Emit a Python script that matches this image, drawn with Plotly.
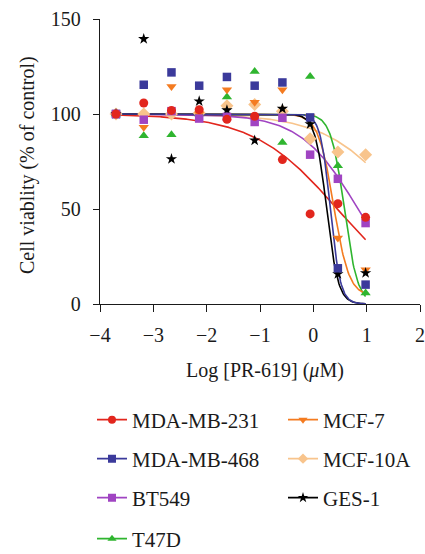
import numpy as np
import plotly.graph_objects as go

# ---- data ----
x_log = [-3.7, -3.18, -2.66, -2.14, -1.62, -1.1, -0.58, -0.06, 0.46, 0.98]

mda231 = [100, 105.8, 101.9, 102.3, 97.2, 98.8, 76.0, 47.4, 52.8, 45.6]
mda468 = [100, 115.4, 121.9, 114.9, 119.5, 114.9, 116.6, 98.2, 18.8, 10.2]
bt549 = [100, 97.0, 101.5, 97.6, 98.5, 95.8, 98.0, 78.6, 65.9, 42.6]
t47d = [100, 88.6, 89.1, 100, 109.0, 122.4, 85.0, 119.8, 72.8, 5.8]
mcf7 = [100, 93.0, 114.5, 100, 112.8, 106.2, 112.8, 98.5, 34.7, 18.0]
mcf10a = [100, 100, 100, 100.5, 104.4, 105.0, 101.4, 87.0, 80.0, 78.6]
ges1 = [100, 139.5, 76.3, 106.7, 102.0, 86.1, 102.8, 94.7, 15.8, 16.3]

# fitted curve parameters (top, bottom, logIC50, hill)
fit_mda231 = (100, 0, 0.45, 0.55)
fit_mda468 = (100, 0, 0.32, 4.6)
fit_bt549 = (100, 0, 0.84, 0.8)
fit_t47d = (100, 0, 0.58, 3.46)
fit_mcf7 = (100, 4, 0.38, 3.0)
fit_mcf10a = (100, 0, 1.75, 0.6)
fit_ges1 = (100, 0, 0.25, 4.0)

x_ticks = [-4, -3, -2, -1, 0, 1, 2]
y_ticks = [0, 50, 100, 150]

names = ["MDA-MB-231", "MCF-7", "MDA-MB-468", "MCF-10A", "BT549", "GES-1", "T47D"]
series = {
    "MDA-MB-231": (mda231, fit_mda231, "#e2261d", "circle", 9),
    "MCF-7": (mcf7, fit_mcf7, "#f47b20", "triangle-down", 9),
    "MDA-MB-468": (mda468, fit_mda468, "#3b3a9b", "square", 8.5),
    "MCF-10A": (mcf10a, fit_mcf10a, "#f8c48c", "diamond", 10),
    "BT549": (bt549, fit_bt549, "#a044c2", "square", 8.5),
    "GES-1": (ges1, fit_ges1, "#000000", "star", 8.5),
    "T47D": (t47d, fit_t47d, "#2fb52f", "triangle-up", 9),
}

# legend anchor positions in figure pixels
legend_pos = {
    "MDA-MB-231": (92, 420), "MCF-7": (283, 420),
    "MDA-MB-468": (92, 459), "MCF-10A": (283, 459),
    "BT549": (92, 498), "GES-1": (283, 498),
    "T47D": (92, 539),
}

W, H = 425, 554
ML, MR, MT, MB = 100, 5, 19, 250
PW, PH = W - ML - MR, H - MT - MB
FONT = "Liberation Serif, Times New Roman, serif"
TXT = "#1a1a1a"


def hill(x, p):
    top, bottom, c, h = p
    return bottom + (top - bottom) / (1 + 10 ** (h * (x - c)))


fig = go.Figure()
xc = np.linspace(-3.7, 0.98, 300)

line_order = ["MCF-10A", "BT549", "MDA-MB-231", "T47D", "MCF-7", "GES-1", "MDA-MB-468"]
for n in line_order:
    vals, p, col, sym, sz = series[n]
    fig.add_trace(go.Scatter(x=xc, y=hill(xc, p), mode="lines",
                             line=dict(color=col, width=1.6), showlegend=False,
                             hoverinfo="skip"))

marker_order = ["MCF-10A", "T47D", "MCF-7", "GES-1", "MDA-MB-468", "BT549", "MDA-MB-231"]
for n in marker_order:
    vals, p, col, sym, sz = series[n]
    fig.add_trace(go.Scatter(x=x_log, y=vals, mode="markers",
                             marker=dict(symbol=sym, size=sz, color=col, line=dict(width=0)),
                             showlegend=False))

layout_legends = {}
for i, n in enumerate(names):
    vals, p, col, sym, sz = series[n]
    key = "legend" if i == 0 else f"legend{i+1}"
    fig.add_trace(go.Scatter(x=[None], y=[None], mode="lines+markers", name=n,
                             line=dict(color=col, width=1.6),
                             marker=dict(symbol=sym, size=8, color=col),
                             legend=key, showlegend=True))
    lx, ly = legend_pos[n]
    layout_legends[key] = dict(
        x=lx / W, y=1 - ly / H, xref="container", yref="container",
        xanchor="left", yanchor="middle", bgcolor="rgba(0,0,0,0)",
        font=dict(family=FONT, size=21, color=TXT),
        itemwidth=30, borderwidth=0,
    )

fig.update_layout(
    width=W, height=H,
    margin=dict(l=ML, r=MR, t=MT, b=MB, autoexpand=False),
    paper_bgcolor="white", plot_bgcolor="white",
    font=dict(family=FONT, size=20, color=TXT),
    xaxis=dict(range=[-4, 2], tickvals=x_ticks,
               showgrid=False, zeroline=False, showline=True, linecolor=TXT,
               linewidth=1.4, ticks="outside", ticklen=7, tickwidth=1.4, tickcolor=TXT,
               ticklabelstandoff=6, automargin=False, ticklabeloverflow="allow"),
    yaxis=dict(range=[0, 150], tickvals=y_ticks,
               showgrid=False, zeroline=False, showline=True, linecolor=TXT,
               linewidth=1.4, ticks="outside", ticklen=6, tickwidth=1.4, tickcolor=TXT,
               ticklabelstandoff=8, automargin=False),
    annotations=[
        dict(text="Log [PR-619] (<i>μ</i>M)", xref="paper", yref="paper",
             x=(265 - ML) / PW, y=(H - MB - 370) / PH, xanchor="center", yanchor="middle",
             showarrow=False, font=dict(family=FONT, size=20, color=TXT)),
        dict(text="Cell viablity (% of control)", xref="paper", yref="paper",
             x=(27 - ML) / PW, y=(H - MB - 165) / PH, xanchor="center", yanchor="middle",
             textangle=-90, showarrow=False, font=dict(family=FONT, size=20, color=TXT)),
    ],
    **layout_legends,
)

fig.write_html(
    "out.html",
    config={"displayModeBar": False},
    post_script="document.body.style.margin='0';document.body.style.overflow='hidden';",
)
